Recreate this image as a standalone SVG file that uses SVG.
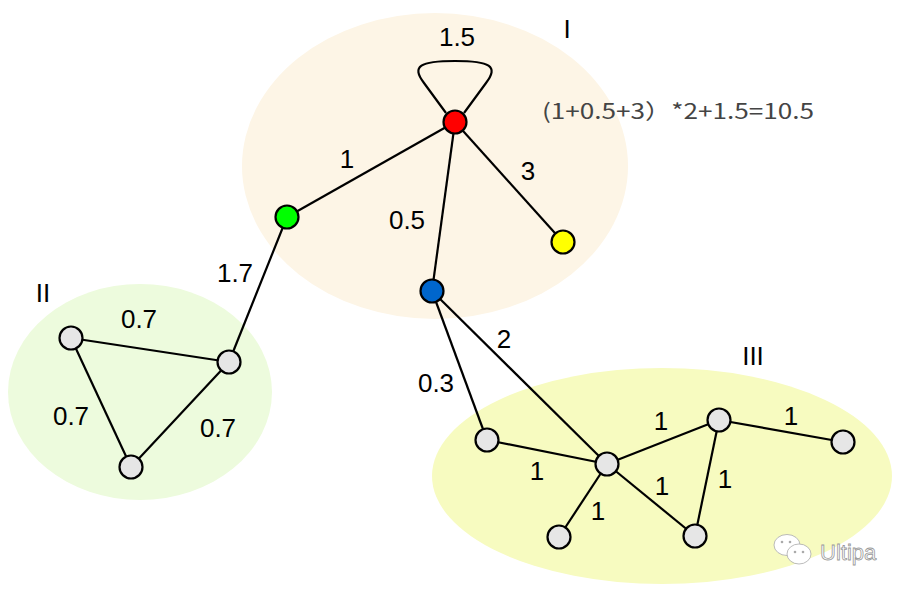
<svg xmlns="http://www.w3.org/2000/svg" width="910" height="593" viewBox="0 0 910 593">
<style>
.lbl{font-family:"Liberation Sans",Arial,sans-serif;font-size:26px;fill:#000;text-anchor:middle}
.edge{stroke:#000;stroke-width:2.2;fill:none}
.node{stroke:#000;stroke-width:2.2}
.grey{fill:#e6e6e6}
.formula{font-family:"Noto Sans CJK SC","Noto Sans",sans-serif;font-size:21px;fill:#444}
.wm{font-family:"Liberation Sans",Arial,sans-serif;font-size:22px;fill:#fff;stroke:#999;stroke-width:0.8}
</style>
<rect width="910" height="593" fill="#fff"/>
<g id="regions">
<ellipse id="region-I" cx="435" cy="166" rx="193" ry="153" fill="#fdf5e6"/>
<ellipse id="region-II" cx="140" cy="392" rx="132" ry="108" fill="#edfbdd"/>
<ellipse id="region-III" cx="662" cy="476" rx="230" ry="108" fill="#f7fbc0"/>
</g>
<g id="connectors">
<path class="edge" d="M446 113 L424 83 C411 66 420 61 455 61 C490 61 499 66 486 83 L464 113"/>
<line class="edge" x1="455" y1="122" x2="287" y2="217"/>
<line class="edge" x1="455" y1="122" x2="432" y2="291"/>
<line class="edge" x1="455" y1="122" x2="563" y2="242"/>
<line class="edge" x1="287" y1="217" x2="229" y2="362"/>
<line class="edge" x1="432" y1="291" x2="487" y2="440"/>
<line class="edge" x1="432" y1="291" x2="607" y2="464"/>
<line class="edge" x1="71" y1="338" x2="229" y2="362"/>
<line class="edge" x1="71" y1="338" x2="131" y2="467"/>
<line class="edge" x1="229" y1="362" x2="131" y2="467"/>
<line class="edge" x1="487" y1="440" x2="607" y2="464"/>
<line class="edge" x1="607" y1="464" x2="719" y2="420"/>
<line class="edge" x1="607" y1="464" x2="559" y2="537"/>
<line class="edge" x1="607" y1="464" x2="695" y2="536"/>
<line class="edge" x1="719" y1="420" x2="695" y2="536"/>
<line class="edge" x1="719" y1="420" x2="843" y2="442"/>
</g>
<g id="edge-labels">
<text class="lbl" x="457" y="46">1.5</text>
<text class="lbl" x="347" y="168">1</text>
<text class="lbl" x="407" y="229">0.5</text>
<text class="lbl" x="528" y="180">3</text>
<text class="lbl" x="235" y="282">1.7</text>
<text class="lbl" x="139" y="328">0.7</text>
<text class="lbl" x="71" y="425">0.7</text>
<text class="lbl" x="218" y="437">0.7</text>
<text class="lbl" x="436" y="392">0.3</text>
<text class="lbl" x="504" y="348">2</text>
<text class="lbl" x="537" y="480">1</text>
<text class="lbl" x="661" y="430">1</text>
<text class="lbl" x="662" y="495">1</text>
<text class="lbl" x="598" y="520">1</text>
<text class="lbl" x="725" y="488">1</text>
<text class="lbl" x="791" y="425">1</text>
</g>
<g id="region-labels">
<text class="lbl" x="567" y="38">I</text>
<text class="lbl" x="43" y="302">II</text>
<text class="lbl" x="753" y="365">III</text>
</g>
<text class="formula" x="542" y="119" textLength="272" lengthAdjust="spacingAndGlyphs">(1+0.5+3）*2+1.5=10.5</text>
<g id="node-red"><circle class="node" cx="455" cy="122" r="11.5" fill="#ff0000"/></g>
<g id="node-green"><circle class="node" cx="287" cy="217" r="11.5" fill="#00ff00"/></g>
<g id="node-yellow"><circle class="node" cx="563" cy="242" r="11.5" fill="#ffff00"/></g>
<g id="node-blue"><circle class="node" cx="432" cy="291" r="11.5" fill="#0066cc"/></g>
<g id="node-II-a"><circle class="node grey" cx="71" cy="338" r="11.5"/></g>
<g id="node-II-b"><circle class="node grey" cx="229" cy="362" r="11.5"/></g>
<g id="node-II-c"><circle class="node grey" cx="131" cy="467" r="11.5"/></g>
<g id="node-III-a"><circle class="node grey" cx="487" cy="440" r="11.5"/></g>
<g id="node-III-b"><circle class="node grey" cx="607" cy="464" r="11.5"/></g>
<g id="node-III-c"><circle class="node grey" cx="719" cy="420" r="11.5"/></g>
<g id="node-III-d"><circle class="node grey" cx="843" cy="442" r="11.5"/></g>
<g id="node-III-e"><circle class="node grey" cx="559" cy="537" r="11.5"/></g>
<g id="node-III-f"><circle class="node grey" cx="695" cy="536" r="11.5"/></g>
<g id="watermark">
<ellipse cx="787" cy="545" rx="13" ry="10.5" fill="#fff" stroke="#aaa" stroke-width="0.8"/>
<ellipse cx="799" cy="554" rx="12" ry="10" fill="#fff" stroke="#aaa" stroke-width="0.8"/>
<circle cx="782" cy="542" r="1.3" fill="#aaa"/>
<circle cx="790" cy="542" r="1.3" fill="#aaa"/>
<circle cx="795" cy="552" r="1.3" fill="#aaa"/>
<circle cx="803" cy="552" r="1.3" fill="#aaa"/>
<text class="wm" x="820" y="560">Ultipa</text>
</g>
</svg>
